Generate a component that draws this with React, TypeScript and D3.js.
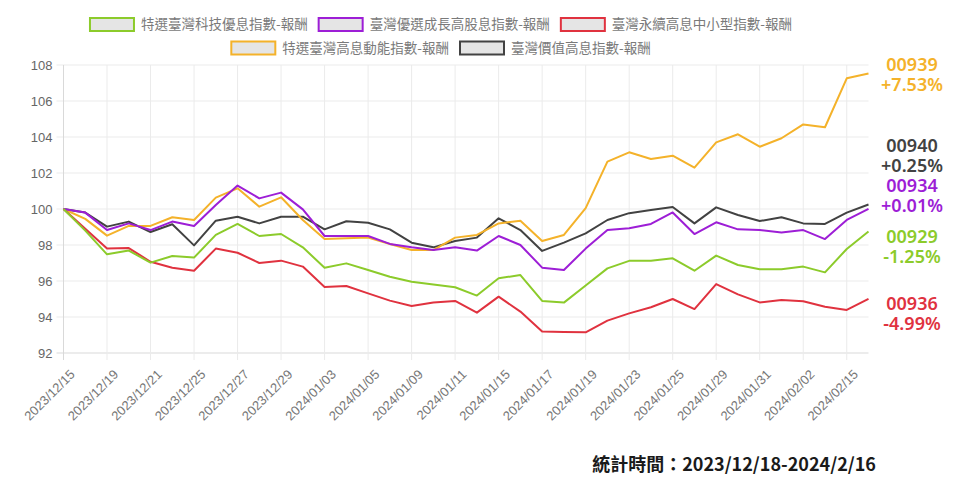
import React, { useEffect, useRef } from "react";
import * as d3 from "d3";

// trading days
const dates = [
  "2023/12/15", "2023/12/18", "2023/12/19", "2023/12/20", "2023/12/21", "2023/12/22",
  "2023/12/25", "2023/12/26", "2023/12/27", "2023/12/28", "2023/12/29", "2024/01/02",
  "2024/01/03", "2024/01/04", "2024/01/05", "2024/01/08", "2024/01/09", "2024/01/10",
  "2024/01/11", "2024/01/12", "2024/01/15", "2024/01/16", "2024/01/17", "2024/01/18",
  "2024/01/19", "2024/01/22", "2024/01/23", "2024/01/24", "2024/01/25", "2024/01/26",
  "2024/01/29", "2024/01/30", "2024/01/31", "2024/02/01", "2024/02/02", "2024/02/05",
  "2024/02/15", "2024/02/16",
];

const techValues = [
  100, 98.8, 97.48, 97.69, 97.02, 97.39, 97.3, 98.56, 99.17, 98.5,
  98.61, 97.87, 96.74, 96.98, 96.61, 96.24, 95.96, 95.81, 95.65, 95.19,
  96.15, 96.33, 94.89, 94.8, 95.75, 96.7, 97.12, 97.13, 97.26, 96.57,
  97.41, 96.89, 96.65, 96.65, 96.8, 96.48, 97.78, 98.75,
];
const growthValues = [
  100, 99.8, 98.83, 99.2, 98.83, 99.3, 99.06, 100.22, 101.3, 100.59,
  100.91, 99.98, 98.5, 98.5, 98.5, 98.06, 97.87, 97.72, 97.87, 97.69,
  98.5, 98.0, 96.74, 96.61, 97.8, 98.83, 98.93, 99.17, 99.81, 98.61,
  99.26, 98.87, 98.83, 98.69, 98.83, 98.33, 99.39, 100.01,
];
const esgValues = [
  100, 98.9, 97.81, 97.83, 97.07, 96.74, 96.57, 97.8, 97.57, 97.0,
  97.13, 96.8, 95.67, 95.72, 95.31, 94.91, 94.61, 94.8, 94.89, 94.24,
  95.13, 94.3, 93.19, 93.17, 93.15, 93.8, 94.2, 94.54, 95.0, 94.44,
  95.83, 95.26, 94.81, 94.94, 94.87, 94.57, 94.39, 95.01,
];
const momentumValues = [
  100, 99.45, 98.52, 99.06, 99.06, 99.54, 99.39, 100.63, 101.15, 100.13,
  100.65, 99.39, 98.33, 98.38, 98.41, 98.06, 97.72, 97.72, 98.41, 98.56,
  99.2, 99.35, 98.22, 98.56, 100.05, 102.63, 103.15, 102.78, 102.96, 102.3,
  103.7, 104.15, 103.46, 103.93, 104.7, 104.54, 107.26, 107.53,
];
const valueValues = [
  100, 99.8, 99.02, 99.3, 98.72, 99.15, 97.98, 99.35, 99.57, 99.2,
  99.57, 99.57, 98.87, 99.32, 99.24, 98.87, 98.13, 97.87, 98.22, 98.41,
  99.48, 98.83, 97.67, 98.13, 98.65, 99.39, 99.77, 99.94, 100.11, 99.2,
  100.09, 99.67, 99.33, 99.54, 99.2, 99.17, 99.8, 100.25,
];

const seriesNames = [
  "特選臺灣科技優息指數-報酬",
  "臺灣優選成長高股息指數-報酬",
  "臺灣永續高息中小型指數-報酬",
  "特選臺灣高息動能指數-報酬",
  "臺灣價值高息指數-報酬",
];
const seriesCodes = ["00929", "00934", "00936", "00939", "00940"];
const seriesReturns = ["-1.25%", "+0.01%", "-4.99%", "+7.53%", "+0.25%"];
const seriesValues = [techValues, growthValues, esgValues, momentumValues, valueValues];
const seriesColors = ["#8ccb2b", "#9d1ed6", "#e0323f", "#f4b22a", "#424242"];
// label nudges (px) so the end labels don't collide
const labelNudge = [11, -17, 11, -2, -53];

const yTicks = [92, 94, 96, 98, 100, 102, 104, 106, 108];
const footnote = "統計時間：2023/12/18-2024/2/16";

const W = 960;
const H = 488;
const cjk = "'Noto Sans CJK TC', 'Noto Sans', sans-serif";

export default function App() {
  const ref = useRef<SVGSVGElement>(null);

  useEffect(() => {
    document.body.style.margin = "0";
    document.body.style.overflow = "hidden";
    const svg = d3.select(ref.current);
    svg.selectAll("*").remove();

    const plot = { left: 63.5, right: 868.5, top: 65, bottom: 353 };

    const x = d3.scalePoint<string>().domain(dates).range([plot.left, plot.right]);
    const y = d3.scaleLinear().domain([92, 108]).range([plot.bottom, plot.top]);

    const labelDates = dates.filter((d, i) => i % 2 === 0 && i < 37);

    //---- grid ----//
    const grid = svg.append("g");
    grid
      .selectAll("line.h")
      .data(yTicks)
      .join("line")
      .attr("x1", plot.left - 7)
      .attr("x2", plot.right)
      .attr("y1", (d) => y(d))
      .attr("y2", (d) => y(d))
      .attr("stroke", (d) => (d === 92 ? "#d9d9d9" : "#ebebeb"))
      .attr("stroke-width", 1);
    grid
      .selectAll("line.v")
      .data(labelDates)
      .join("line")
      .attr("x1", (d) => x(d)!)
      .attr("x2", (d) => x(d)!)
      .attr("y1", plot.top)
      .attr("y2", plot.bottom + 7)
      .attr("stroke", (d, i) => (i === 0 ? "#d9d9d9" : "#ebebeb"))
      .attr("stroke-width", 1);

    //---- axes labels ----//
    svg
      .append("g")
      .selectAll("text")
      .data(yTicks)
      .join("text")
      .attr("x", plot.left - 11)
      .attr("y", (d) => y(d))
      .attr("dy", "0.35em")
      .attr("text-anchor", "end")
      .attr("font-family", "'Liberation Sans', Arial, sans-serif")
      .attr("font-size", 13)
      .attr("fill", "#666")
      .text((d) => d);

    svg
      .append("g")
      .selectAll("text")
      .data(labelDates)
      .join("text")
      .attr("transform", (d) => `translate(${x(d)! + 9},${plot.bottom + 19}) rotate(-45)`)
      .attr("text-anchor", "end")
      .attr("dy", "0.35em")
      .attr("font-family", "'Liberation Sans', Arial, sans-serif")
      .attr("font-size", 13)
      .attr("fill", "#777")
      .text((d) => d);

    //---- lines ----//
    const line = d3
      .line<number>()
      .x((d, i) => x(dates[i])!)
      .y((d) => y(d));

    const order = d3.range(seriesValues.length).reverse();
    svg
      .append("g")
      .selectAll("path")
      .data(order)
      .join("path")
      .attr("d", (k) => line(seriesValues[k]))
      .attr("fill", "none")
      .attr("stroke", (k) => seriesColors[k])
      .attr("stroke-width", 2)
      .attr("stroke-linejoin", "round");

    //---- end labels ----//
    const ends = svg.append("g");
    seriesValues.forEach((vals, k) => {
      const y0 = y(vals[vals.length - 1]) + labelNudge[k];
      const t = ends
        .append("text")
        .attr("x", 912)
        .attr("text-anchor", "middle")
        .attr("font-family", "'Noto Sans', sans-serif")
        .attr("font-size", 18)
        .attr("font-weight", 600)
        .attr("fill", seriesColors[k]);
      t.append("tspan").attr("x", 912).attr("y", y0).text(seriesCodes[k]);
      t.append("tspan").attr("x", 912).attr("y", y0 + 20).text(seriesReturns[k]);
    });

    //---- legend ----//
    const rows = [[0, 1, 2], [3, 4]];
    const rowY = [24.5, 48];
    const legendCenter = 441;
    const boxW = 44;
    const boxH = 13;
    rows.forEach((items, r) => {
      const g = svg.append("g");
      const widths: number[] = [];
      const entries = items.map((k) => {
        const e = g.append("g");
        e.append("rect")
          .attr("width", boxW)
          .attr("height", boxH)
          .attr("y", -boxH / 2)
          .attr("fill", "#e5e5e5")
          .attr("stroke", seriesColors[k])
          .attr("stroke-width", 2);
        const txt = e
          .append("text")
          .attr("x", boxW + 7)
          .attr("dy", "0.35em")
          .attr("font-family", cjk)
          .attr("font-size", 13.5)
          .attr("fill", "#7a7a7a")
          .text(seriesNames[k]);
        const tw = (txt.node() as SVGTextElement).getComputedTextLength();
        widths.push(boxW + 7 + tw);
        return e;
      });
      const gap = 11;
      const total = d3.sum(widths) + gap * (widths.length - 1);
      let cx = legendCenter - total / 2;
      entries.forEach((e, i) => {
        e.attr("transform", `translate(${cx},${rowY[r]})`);
        cx += widths[i] + gap;
      });
    });

    //---- footnote ----//
    svg
      .append("text")
      .attr("x", 876)
      .attr("y", 471)
      .attr("text-anchor", "end")
      .attr("font-family", cjk)
      .attr("font-size", 18)
      .attr("font-weight", 700)
      .attr("fill", "#1a1a1a")
      .text(footnote);
  }, []);

  return <svg ref={ref} width={W} height={H} style={{ display: "block", background: "#fff" }} />;
}
